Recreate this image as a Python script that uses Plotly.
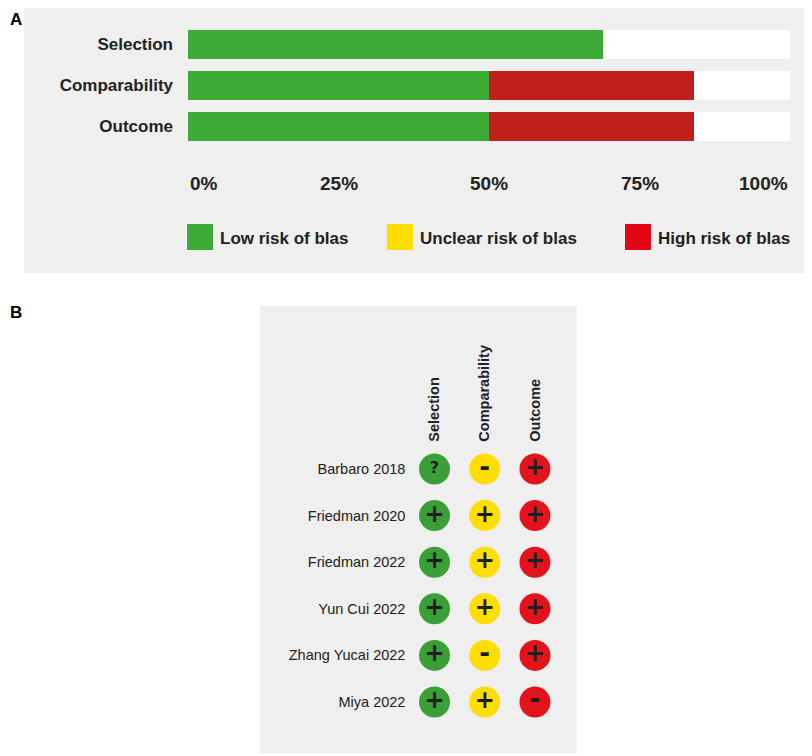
import plotly.graph_objects as go

# ---- data ----
# panel A: share of studies per judgement, by domain (percent)
domains = ["Selection", "Comparability", "Outcome"]
low_risk = [69, 50, 50]
unclear_risk = [0, 0, 0]
high_risk = [0, 34, 34]
pct_ticks = [0, 25, 50, 75, 100]
pct_labels = ["0%", "25%", "50%", "75%", "100%"]
legend_names = ["Low risk of blas", "Unclear risk of blas", "High risk of blas"]

# panel B: per-study judgement in each domain
studies = ["Barbaro 2018", "Friedman 2020", "Friedman 2022",
           "Yun Cui 2022", "Zhang Yucai 2022", "Miya 2022"]
judgements = [
    ["?", "-", "+"],
    ["+", "+", "+"],
    ["+", "+", "+"],
    ["+", "+", "+"],
    ["+", "-", "+"],
    ["+", "+", "-"],
]

# the page puts the figure 8px in from the top-left corner
OFF = 8
W, H = 812 - OFF, 756 - OFF
FONT = "Liberation Sans, Arial, sans-serif"
SYM_FONT = "DejaVu Sans, sans-serif"
bar_cols = ["#3daa35", "#fedd00", "#c01f1a"]
legend_cols = ["#3daa35", "#fedd00", "#e30613"]
dot_cols = ["#3b9f37", "#fedd00", "#e3131b"]


def px(x):
    return (x - OFF) / W


def py(y):
    return 1 - (y - OFF) / H


remainder = [100 - a - b - c for a, b, c in zip(low_risk, unclear_risk, high_risk)]

fig = go.Figure()
for vals, col, name in zip([low_risk, unclear_risk, high_risk], bar_cols, legend_names):
    fig.add_trace(go.Bar(x=vals, y=domains, orientation="h", marker_color=col,
                         marker_line_width=0, name=name, showlegend=False,
                         xaxis="x", yaxis="y"))
fig.add_trace(go.Bar(x=remainder, y=domains, orientation="h", marker_color="white",
                     marker_line_width=0, showlegend=False, xaxis="x", yaxis="y"))

# panel B dots
xs, ys, txt, cols, sizes = [], [], [], [], []
for i, s in enumerate(studies):
    for j, d in enumerate(domains):
        mark = judgements[i][j]
        xs.append(d)
        ys.append(s)
        txt.append(mark)
        cols.append(dot_cols[j])
        sizes.append({"+": 24, "-": 26, "?": 16}[mark])
fig.add_trace(go.Scatter(
    x=xs, y=ys, mode="markers+text", text=txt, textposition="middle center",
    marker=dict(size=31, color=cols, line_width=0),
    textfont=dict(size=sizes, color="#1e1e1e", family=SYM_FONT, weight="bold"),
    showlegend=False, xaxis="x2", yaxis="y2", hoverinfo="skip"))

shapes = [
    dict(type="rect", xref="paper", yref="paper", x0=px(24), x1=px(810),
         y0=py(273), y1=py(7), fillcolor="#efefef", line_width=0, layer="below"),
    dict(type="rect", xref="paper", yref="paper", x0=px(260), x1=px(577),
         y0=py(753), y1=py(306), fillcolor="#efefef", line_width=0, layer="below"),
]
annotations = [
    dict(text="<b>A</b>", x=0, y=1, xref="paper", yref="paper",
         xanchor="left", yanchor="top", showarrow=False,
         font=dict(size=17, family=FONT, color="black")),
    dict(text="<b>B</b>", x=0, y=py(312), xref="paper", yref="paper",
         xanchor="left", yanchor="middle", showarrow=False,
         font=dict(size=17, family=FONT, color="black")),
]
for k, (t, lab) in enumerate(zip(pct_ticks, pct_labels)):
    anchor = "left" if k == 0 else ("right" if k == len(pct_ticks) - 1 else "center")
    annotations.append(dict(text=lab, x=t, y=py(183.5), xref="x", yref="paper",
                            xanchor=anchor, yanchor="middle", showarrow=False,
                            font=dict(size=19, family=FONT, color="#222", weight="bold")))

# legend swatches
sw_x = [187, 387, 625]
for x0, col, name in zip(sw_x, legend_cols, legend_names):
    shapes.append(dict(type="rect", xref="paper", yref="paper", x0=px(x0), x1=px(x0 + 26),
                       y0=py(250), y1=py(224), fillcolor=col, line_width=0))
    annotations.append(dict(text=name, x=px(x0 + 31), y=py(238), xref="paper", yref="paper",
                            xanchor="left", yanchor="middle", showarrow=False,
                            font=dict(size=17, family=FONT, color="#222", weight="bold")))

fig.update_layout(
    width=W, height=H, margin=dict(l=0, r=0, t=0, b=0),
    paper_bgcolor="white", plot_bgcolor="rgba(0,0,0,0)",
    barmode="stack", bargap=0.29,
    shapes=shapes, annotations=annotations,
    xaxis=dict(domain=[px(188), px(790)], range=[0, 100], showgrid=False,
               zeroline=False, showticklabels=False, ticks=""),
    yaxis=dict(domain=[py(147), py(24)], categoryorder="array",
               categoryarray=domains[::-1], showgrid=False, zeroline=False, ticks="",
               ticklabelstandoff=14,
               tickfont=dict(size=17, family=FONT, color="#222", weight="bold")),
    xaxis2=dict(domain=[px(409.4), px(560.1)], anchor="y2", side="top",
                type="category", categoryorder="array", categoryarray=domains,
                range=[-0.5, 2.5], showgrid=False, zeroline=False, ticks="",
                tickangle=-90, ticklabelstandoff=3,
                tickfont=dict(size=14.5, family=FONT, color="#222", weight="bold")),
    yaxis2=dict(domain=[py(725.3), py(445.7)], anchor="x2", type="category",
                categoryorder="array", categoryarray=studies, range=[5.5, -0.5],
                showgrid=False, zeroline=False, ticks="", ticklabelstandoff=3,
                tickfont=dict(size=14.5, family=FONT, color="#222")),
)

fig.write_html("out.html")
